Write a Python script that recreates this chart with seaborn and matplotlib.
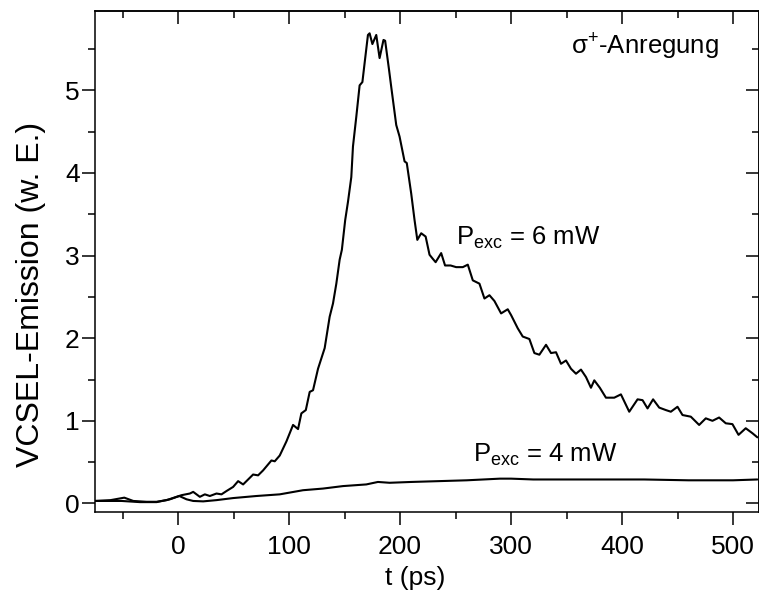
"""
plot.py — VCSEL-Emission nach sigma+-Anregung für zwei Anregungsleistungen
"""
import pandas as pd
import matplotlib
matplotlib.use('Agg')
import matplotlib.pyplot as plt
from matplotlib import font_manager
from matplotlib.ticker import MultipleLocator
import seaborn as sns

# ── Daten ────────────────────────────────────────────────────────────────────
t_6mw = [-75, -61, -48.6, -40.5, -28.5, -19.5, -10.4, -1.5, 3, 10.5, 13.5, 19.5,
         24, 28.5, 34.5, 39, 43.5, 49.5, 54, 58.5, 67.5, 72, 76.5, 84, 87, 91.5,
         97.5, 103.5, 108, 111, 115, 118.5, 121.5, 126, 132, 136.5, 139.5, 142.5,
         145.5, 147.5, 150.5, 153, 156, 157.5, 160.5, 163.5, 166, 168, 171, 172.5,
         175, 178.5, 181.5, 185, 186.5, 190, 192, 196.5, 199.5, 204, 206, 210, 213,
         215.5, 219, 223, 226.5, 229.5, 232, 237, 240.5, 245.5, 250.5, 256.5, 261,
         265.5, 271.5, 276, 280.5, 285, 291, 297, 300, 306, 310.5, 316.5, 321,
         325.5, 331.5, 336, 340.5, 345, 349.5, 354, 358.5, 363, 367.5, 372, 375,
         380, 385.5, 393, 399, 406.5, 414, 418.5, 423, 428, 433.5, 439.5, 444, 450,
         454.5, 462, 469.5, 475.5, 481.5, 487.5, 493.5, 499.5, 505, 511.5, 517.5, 522]
v_6mw = [0.03, 0.04, 0.07, 0.03, 0.02, 0.02, 0.04, 0.08, 0.10, 0.12, 0.14, 0.08,
         0.11, 0.09, 0.12, 0.11, 0.15, 0.20, 0.27, 0.23, 0.35, 0.34, 0.40, 0.52, 0.51, 0.58,
         0.75, 0.95, 0.90, 1.09, 1.13, 1.35, 1.37, 1.63, 1.88, 2.26, 2.42, 2.66,
         2.95, 3.07, 3.43, 3.65, 3.95, 4.32, 4.68, 5.06, 5.10, 5.33, 5.67, 5.69,
         5.56, 5.67, 5.39, 5.61, 5.60, 5.25, 5.04, 4.58, 4.44, 4.14, 4.12, 3.75, 3.43,
         3.19, 3.27, 3.23, 3.01, 2.96, 2.92, 3.03, 2.88, 2.88, 2.86, 2.86, 2.89,
         2.70, 2.66, 2.48, 2.52, 2.45, 2.30, 2.35, 2.28, 2.12, 2.02, 1.99, 1.82,
         1.80, 1.92, 1.82, 1.83, 1.69, 1.73, 1.63, 1.57, 1.62, 1.53, 1.40, 1.49,
         1.40, 1.28, 1.28, 1.32, 1.11, 1.26, 1.25, 1.15, 1.26, 1.16, 1.13, 1.11, 1.17,
         1.07, 1.05, 0.95, 1.03, 1.00, 1.04, 0.97, 0.96, 0.83, 0.91, 0.85, 0.80]

t_4mw = [-75, -51, -34.5, -19.5, -7.5, 1, 7.5, 13.5, 22.5, 34.5, 49.5, 70.5, 91.5,
         112.5, 130.5, 148.5, 169.5, 180, 190.5, 210, 235, 260, 290, 300, 320, 350,
         380, 420, 460, 500, 522]
v_4mw = [0.03, 0.03, 0.016, 0.016, 0.05, 0.09, 0.05, 0.03, 0.025, 0.04, 0.065, 0.09, 0.11,
         0.16, 0.18, 0.21, 0.23, 0.26, 0.25, 0.26, 0.27, 0.28, 0.30, 0.30, 0.29, 0.29,
         0.29, 0.29, 0.28, 0.28, 0.29]

X_TICKS = [0, 100, 200, 300, 400, 500]
Y_TICKS = [0, 1, 2, 3, 4, 5]

# ── Stil ─────────────────────────────────────────────────────────────────────
sns.set_style('ticks')
_names = {f.name for f in font_manager.fontManager.ttflist}
NARROW = 'Liberation Sans Narrow' in _names
TEXT_FAMILY = ['Liberation Sans Narrow' if NARROW else 'Liberation Sans', 'DejaVu Sans']
FS = 22 if NARROW else 19
FS_ANN = 22 if NARROW else 18.5

plt.rcParams['font.family'] = TEXT_FAMILY
plt.rcParams['mathtext.fontset'] = 'custom'
plt.rcParams['mathtext.rm'] = TEXT_FAMILY[0]
plt.rcParams['mathtext.it'] = TEXT_FAMILY[0] + ':italic'
for key in ['text.color', 'axes.labelcolor', 'xtick.color', 'ytick.color', 'axes.edgecolor']:
    plt.rcParams[key] = 'black'

df = pd.concat([
    pd.DataFrame({'t': t_6mw, 'v': v_6mw, 'P': '6 mW'}),
    pd.DataFrame({'t': t_4mw, 'v': v_4mw, 'P': '4 mW'}),
])

fig = plt.figure(figsize=(7.59, 5.92), dpi=100)
W, H = 759, 592
ax = fig.add_axes([95 / W, 1 - 511.7 / H, (758.5 - 95) / W, (511.7 - 11) / H])

for p in ['6 mW', '4 mW']:
    sns.lineplot(data=df[df['P'] == p], x='t', y='v', color='black',
                 linewidth=1.5, ax=ax, legend=False)

ax.set_xlim(-75, 523)
ax.set_ylim(-0.1, 5.96)
ax.set_xticks(X_TICKS)
ax.set_yticks(Y_TICKS)
ax.xaxis.set_minor_locator(MultipleLocator(50))
ax.yaxis.set_minor_locator(MultipleLocator(0.5))
ax.set_xlabel('')
ax.set_ylabel('')
ax.tick_params(which='major', direction='out', length=9.5, width=1.1, labelsize=FS)
ax.tick_params(which='minor', direction='out', length=5, width=1.1)
ax.tick_params(axis='x', which='major', pad=7)
ax.tick_params(axis='y', which='major', pad=1.5)
for s in ax.spines.values():
    s.set_visible(True)
    s.set_linewidth(1.1)

# gespiegelte Achsen oben/rechts mit Ticks nach innen
top = ax.secondary_xaxis('top')
top.set_xticks(X_TICKS)
top.xaxis.set_minor_locator(MultipleLocator(50))
top.tick_params(which='major', direction='in', length=9.5, width=1.1, labeltop=False)
top.tick_params(which='minor', direction='in', length=5, width=1.1)
top.spines['top'].set_linewidth(1.1)
right = ax.secondary_yaxis('right')
right.set_yticks(Y_TICKS)
right.yaxis.set_minor_locator(MultipleLocator(0.5))
right.tick_params(which='major', direction='in', length=9.5, width=1.1, labelright=False)
right.tick_params(which='minor', direction='in', length=5, width=1.1)
right.spines['right'].set_linewidth(1.1)

# Beschriftungen
ax.text(250, 3.13, r'P$_{\mathregular{exc}}$ = 6 mW', fontsize=FS_ANN, ha='left', va='baseline')
ax.text(265.6, 0.50, r'P$_{\mathregular{exc}}$ = 4 mW', fontsize=FS_ANN, ha='left', va='baseline')
ax.text(354, 5.43, r'σ$^{\mathregular{+}}$-Anregung', fontsize=FS_ANN, ha='left', va='baseline')

fig.text(31 / W, 1 - 294 / H, 'VCSEL-Emission (w. E.)', fontsize=23,
         family=['Liberation Sans', 'DejaVu Sans'], rotation=90, ha='center', va='center')
fig.text(415 / W, 1 - 578 / H, 't (ps)', fontsize=FS, ha='center', va='center')

fig.savefig('out.png', dpi=100)
